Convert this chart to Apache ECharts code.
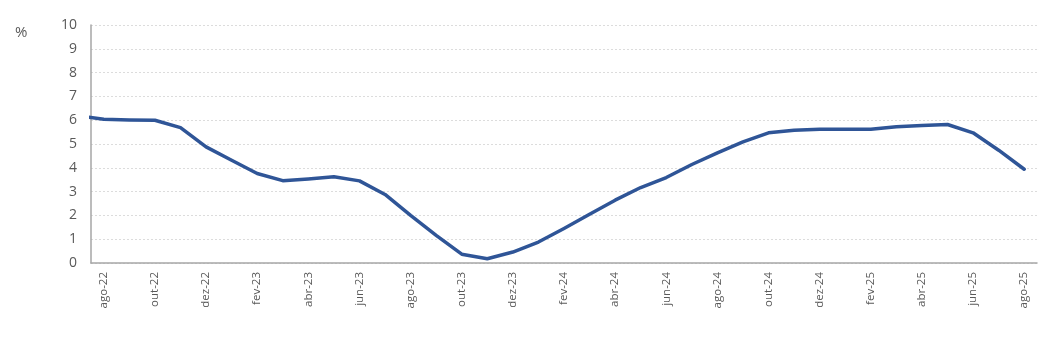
<!DOCTYPE html>
<html>
<head>
<meta charset="utf-8">
<script src="https://cdn.jsdelivr.net/npm/echarts@6/dist/echarts.min.js"></script>
<style>
  html, body { margin: 0; padding: 0; background: #ffffff; }
  #chart { width: 1052px; height: 337px; }
</style>
</head>
<body>
<div id="chart"></div>
<script>
// Monthly series, jul-22 .. ago-25 (the jul-22 point sits just left of the plot and is clipped)
const months = [
  'jul-22', 'ago-22', 'set-22', 'out-22', 'nov-22', 'dez-22',
  'jan-23', 'fev-23', 'mar-23', 'abr-23', 'mai-23', 'jun-23',
  'jul-23', 'ago-23', 'set-23', 'out-23', 'nov-23', 'dez-23',
  'jan-24', 'fev-24', 'mar-24', 'abr-24', 'mai-24', 'jun-24',
  'jul-24', 'ago-24', 'set-24', 'out-24', 'nov-24', 'dez-24',
  'jan-25', 'fev-25', 'mar-25', 'abr-25', 'mai-25', 'jun-25',
  'jul-25', 'ago-25'
];
const rate = [
  6.18, 6.04, 6.01, 6.00, 5.69, 4.88,
  4.32, 3.76, 3.46, 3.53, 3.62, 3.45,
  2.88, 2.00, 1.16, 0.37, 0.18, 0.46,
  0.88, 1.45, 2.05, 2.64, 3.17, 3.59,
  4.14, 4.63, 5.09, 5.47, 5.58, 5.62,
  5.62, 5.62, 5.72, 5.78, 5.82, 5.47,
  4.74, 3.94
];
const yTicks = { min: 0, max: 10, step: 1 };

// Months shown on the category axis start at ago-22
const axisMonths = months.slice(1);
// Position each value on the month index (ago-22 = 0)
const points = rate.map((v, i) => [i - 1, v]);

const chart = echarts.init(document.getElementById('chart'), null, { renderer: 'canvas' });
chart.setOption({
  animation: false,
  backgroundColor: '#ffffff',
  grid: { left: 91, right: 15, top: 25, bottom: 74, containLabel: false },
  graphic: [{
    type: 'text', left: 15, top: 25,
    style: { text: '%', fontSize: 15, fill: '#595959', fontFamily: 'Open Sans, DejaVu Sans, sans-serif' }
  }],
  xAxis: [{
    type: 'category',
    data: axisMonths,
    boundaryGap: true,
    axisLine: { show: true, onZero: false, lineStyle: { color: '#a6a6a6', width: 1.5 } },
    axisTick: { show: false },
    splitLine: { show: false },
    axisLabel: {
      interval: 1,
      rotate: 90,
      margin: 9,
      fontSize: 11.5,
      color: '#595959',
      fontFamily: 'Open Sans, DejaVu Sans, sans-serif'
    }
  }, {
    type: 'value',
    min: -0.5,
    max: axisMonths.length - 0.5,
    show: false,
    splitLine: { show: false }
  }],
  yAxis: {
    type: 'value',
    min: yTicks.min,
    max: yTicks.max,
    interval: yTicks.step,
    axisLine: { show: true, onZero: false, lineStyle: { color: '#a6a6a6', width: 1.5 } },
    axisTick: { show: false },
    axisLabel: {
      margin: 14,
      fontSize: 14,
      color: '#595959',
      fontFamily: 'Open Sans, DejaVu Sans, sans-serif'
    },
    splitLine: { show: true, lineStyle: { color: '#dcdcdc', type: [2, 2], width: 1 } }
  },
  series: [{
    type: 'line',
    xAxisIndex: 1,
    data: points,
    showSymbol: false,
    smooth: false,
    clip: true,
    lineStyle: { color: '#2f5597', width: 3.5, join: 'round', cap: 'round' }
  }]
});
</script>
</body>
</html>
